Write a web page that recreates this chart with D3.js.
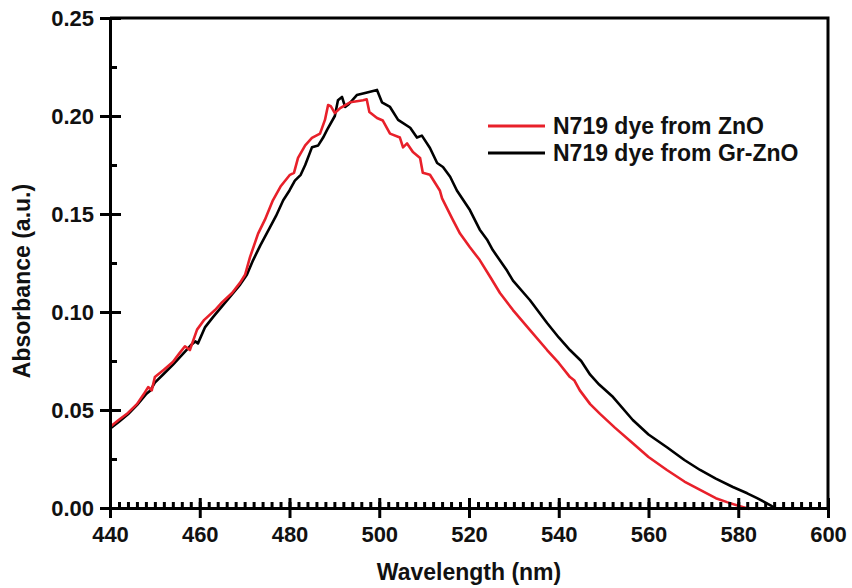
<!DOCTYPE html>
<html>
<head>
<meta charset="utf-8">
<script src="https://cdn.jsdelivr.net/npm/d3@7"></script>
<style>
  body { margin: 0; background: #fff; }
  svg text { font-family: "Liberation Sans", Arial, sans-serif; font-weight: bold; fill: #111; }
</style>
</head>
<body>
<svg id="chart"></svg>
<script>
// wavelength (nm) and absorbance
const znoWave = [440, 442, 444, 446, 447.5, 448.5, 449.3, 450, 452, 454, 455.5, 456.7, 457.8, 459.4, 461, 463.4, 465, 467.2, 469, 470.1, 471.2, 473, 474.5, 476.3, 478, 480.1, 481, 481.9, 483.5, 485, 486.8, 487.9, 488.6, 489.2, 490.1, 491.3, 493.5, 495, 496.4, 497.2, 497.8, 499.5, 500.8, 502.4, 504.6, 505.3, 506.2, 507.5, 509.1, 509.7, 511.3, 513.5, 514, 516.4, 518, 520.2, 522.4, 524.7, 526.9, 529.8, 533.6, 537.4, 540, 542.5, 543.5, 544.7, 547, 549.2, 552.5, 556.5, 560, 564.1, 568, 571.5, 575, 577.5, 580, 582.5];
const znoAbs = [0.0413, 0.0450, 0.0485, 0.0530, 0.0580, 0.0617, 0.0600, 0.0668, 0.0705, 0.0745, 0.0790, 0.0825, 0.0806, 0.0910, 0.0960, 0.1010, 0.1050, 0.1097, 0.1150, 0.1190, 0.1280, 0.1400, 0.1470, 0.1570, 0.1640, 0.1700, 0.1710, 0.1786, 0.1850, 0.1888, 0.1910, 0.1980, 0.2056, 0.2050, 0.2015, 0.2040, 0.2070, 0.2075, 0.2080, 0.2085, 0.2020, 0.1990, 0.1977, 0.1910, 0.1890, 0.1840, 0.1860, 0.1816, 0.1786, 0.1710, 0.1700, 0.1620, 0.1580, 0.1470, 0.1400, 0.1330, 0.1265, 0.1180, 0.1097, 0.1010, 0.0908, 0.0806, 0.0740, 0.0668, 0.0650, 0.0600, 0.0530, 0.0480, 0.0410, 0.0330, 0.0260, 0.0194, 0.0135, 0.0092, 0.0050, 0.0030, 0.0012, -0.0005];

const grWave = [440, 442, 444, 446, 448, 449, 450, 452, 454, 456, 458, 459, 459.6, 461.2, 463, 465, 467, 469, 470.5, 471.9, 473.5, 475.7, 477, 478.6, 480, 481.2, 482.5, 483.5, 485, 486.4, 487.5, 488.4, 490.1, 490.8, 491.7, 492.4, 493.2, 495, 497.3, 499.5, 500.6, 502.4, 504.2, 506.9, 508.4, 509.5, 511.3, 512.9, 514.2, 515.8, 517.3, 520.2, 522.4, 524, 525.3, 528.5, 529.8, 533.6, 537.4, 540, 542.5, 545, 547, 549, 552.1, 556.5, 560, 564.1, 568, 571.5, 575, 578.8, 582, 584.2, 587.1, 588.2];
const grAbs = [0.0405, 0.0440, 0.0478, 0.0525, 0.0580, 0.0600, 0.0640, 0.0685, 0.0730, 0.0780, 0.0830, 0.0850, 0.0840, 0.0923, 0.0975, 0.1030, 0.1085, 0.1140, 0.1190, 0.1265, 0.1340, 0.1434, 0.1490, 0.1570, 0.1620, 0.1670, 0.1700, 0.1750, 0.1840, 0.1850, 0.1890, 0.1930, 0.2000, 0.2080, 0.2097, 0.2046, 0.2060, 0.2107, 0.2120, 0.2133, 0.2070, 0.2046, 0.1980, 0.1940, 0.1890, 0.1900, 0.1837, 0.1760, 0.1740, 0.1690, 0.1620, 0.1520, 0.1420, 0.1370, 0.1316, 0.1210, 0.1160, 0.1060, 0.0944, 0.0870, 0.0806, 0.0750, 0.0680, 0.0630, 0.0566, 0.0449, 0.0375, 0.0310, 0.0245, 0.0194, 0.0150, 0.0107, 0.0075, 0.0050, 0.0015, 0.0000];

const seriesNames = ["N719 dye from ZnO", "N719 dye from Gr-ZnO"];
const seriesColors = ["#e8202a", "#000000"];
const xTicks = [440, 460, 480, 500, 520, 540, 560, 580, 600];
const yTicks = [0.00, 0.05, 0.10, 0.15, 0.20, 0.25];

const width = 852, height = 588;
const margin = { top: 18, right: 24, bottom: 80, left: 110 };
const innerW = width - margin.left - margin.right;
const innerH = height - margin.top - margin.bottom;

const svg = d3.select('#chart')
  .attr('width', width)
  .attr('height', height);

const chart = svg.append('g')
  .attr('transform', `translate(${margin.left}, ${margin.top})`);

const xScale = d3.scaleLinear().domain([440, 600]).range([0, innerW]);
const yScale = d3.scaleLinear().domain([0, 0.25]).range([innerH, 0]);

// frame (top and right)
chart.append('path')
  .attr('d', `M0,0H${innerW}V${innerH}`)
  .attr('fill', 'none')
  .attr('stroke', '#000')
  .attr('stroke-width', 3);

// curves
const line = d3.line()
  .x(d => xScale(d[0]))
  .y(d => yScale(d[1]));

const series = [
  { name: seriesNames[1], color: seriesColors[1], pts: d3.zip(grWave, grAbs) },
  { name: seriesNames[0], color: seriesColors[0], pts: d3.zip(znoWave, znoAbs) }
];

chart.selectAll('.curve')
  .data(series)
  .join('path')
  .attr('class', 'curve')
  .attr('d', d => line(d.pts))
  .attr('fill', 'none')
  .attr('stroke', d => d.color)
  .attr('stroke-width', 2.6)
  .attr('stroke-linejoin', 'round');

// x axis: minor ticks every 2 nm inward, major ticks both sides
const xAxisG = chart.append('g').attr('transform', `translate(0, ${innerH})`);
xAxisG.append('g')
  .call(d3.axisTop(xScale).tickValues(d3.range(440, 601, 2)).tickSize(6).tickFormat(''))
  .call(g => g.select('.domain').remove());
xAxisG.append('g')
  .call(d3.axisBottom(xScale).tickValues(xTicks).tickSizeInner(10).tickSizeOuter(0).tickPadding(8).tickFormat(d3.format('d')))
  .call(g => g.selectAll('.tick line').attr('y1', -10))
  .call(g => g.selectAll('text').attr('font-size', 22).attr('fill', '#111'));
xAxisG.selectAll('line').attr('stroke', '#000').attr('stroke-width', 3);
xAxisG.selectAll('.domain').attr('stroke', '#000').attr('stroke-width', 3);

// y axis
const yAxisG = chart.append('g');
yAxisG.append('g')
  .call(d3.axisRight(yScale).tickValues(d3.range(0.025, 0.25, 0.05)).tickSize(7).tickFormat(''))
  .call(g => g.select('.domain').remove());
yAxisG.append('g')
  .call(d3.axisLeft(yScale).tickValues(yTicks).tickSizeInner(10).tickSizeOuter(0).tickPadding(6).tickFormat(d3.format('.2f')))
  .call(g => g.selectAll('.tick line').attr('x1', 11))
  .call(g => g.selectAll('text').attr('font-size', 22).attr('fill', '#111'));
yAxisG.selectAll('line').attr('stroke', '#000').attr('stroke-width', 3);
yAxisG.selectAll('.domain').attr('stroke', '#000').attr('stroke-width', 3);

// axis titles
svg.append('text')
  .attr('x', margin.left + xScale(520))
  .attr('y', 580)
  .attr('text-anchor', 'middle')
  .attr('font-size', 23)
  .text('Wavelength (nm)');

svg.append('text')
  .attr('transform', `translate(30, ${margin.top + innerH / 2 + 18}) rotate(-90)`)
  .attr('text-anchor', 'middle')
  .attr('font-size', 23)
  .text('Absorbance (a.u.)');

// legend
const legend = svg.append('g').attr('transform', 'translate(488, 126)');
const legendItems = legend.selectAll('g')
  .data(seriesNames)
  .join('g')
  .attr('transform', (d, i) => `translate(0, ${i * 27})`);
legendItems.append('line')
  .attr('x1', 0).attr('x2', 57)
  .attr('stroke', (d, i) => seriesColors[i])
  .attr('stroke-width', 3);
legendItems.append('text')
  .attr('x', 65)
  .attr('y', 8)
  .attr('font-size', 23)
  .text(d => d);
</script>
</body>
</html>
